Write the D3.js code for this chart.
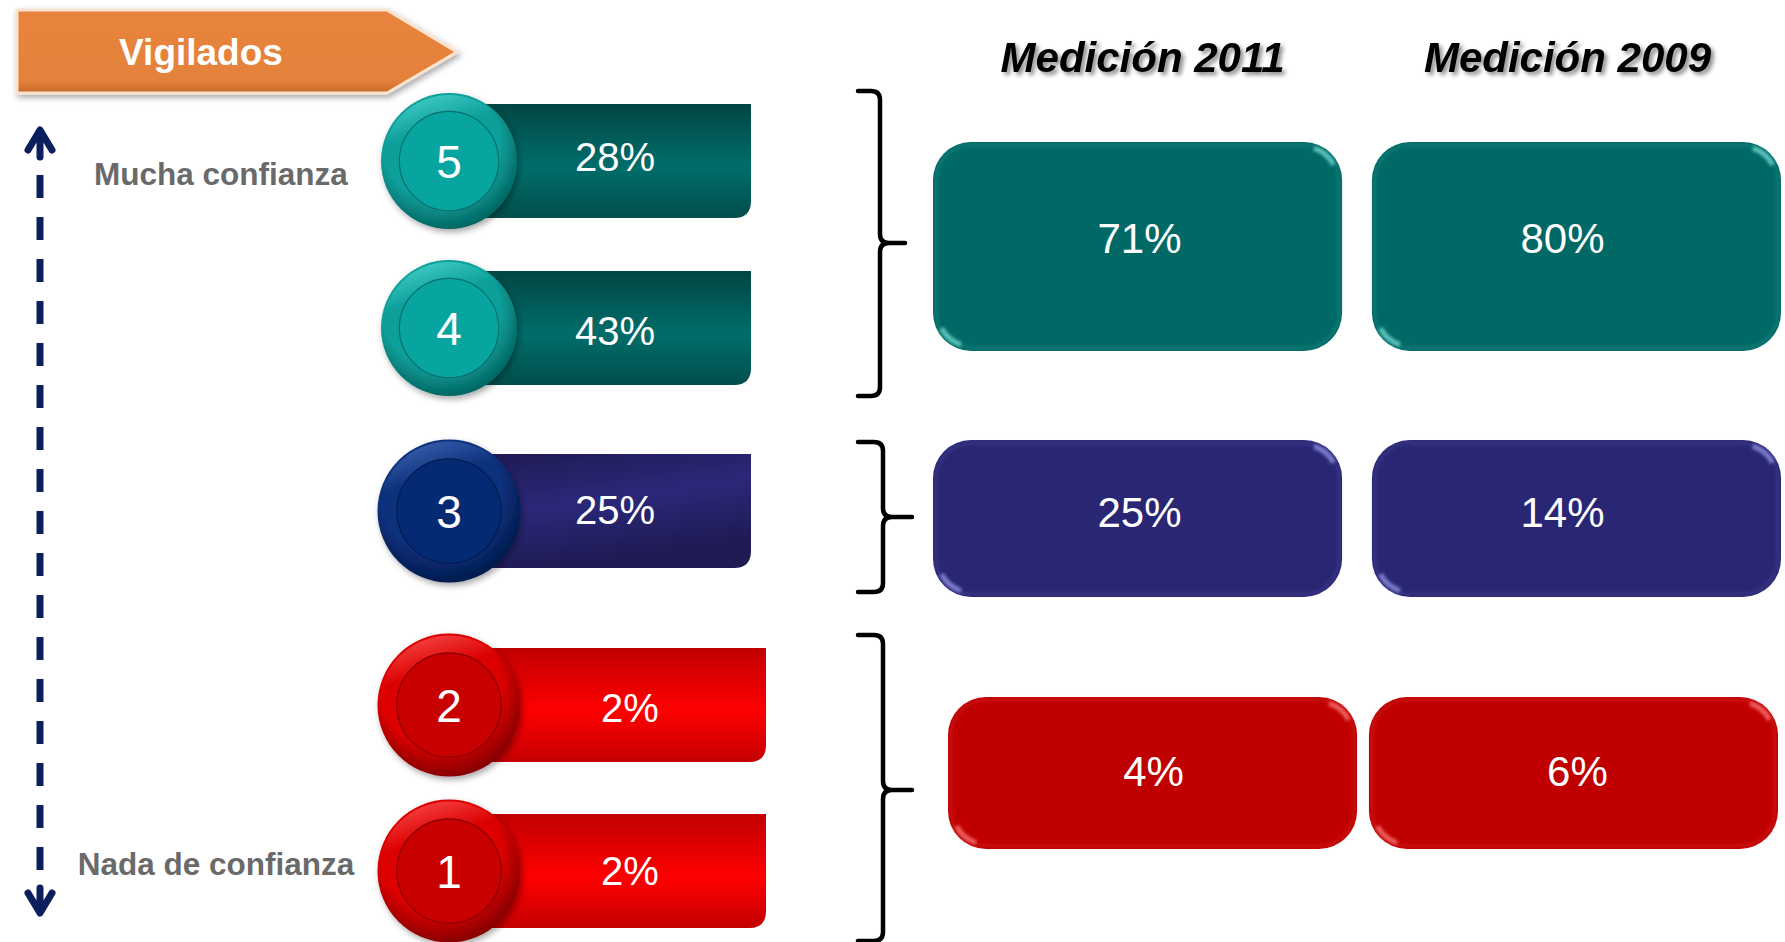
<!DOCTYPE html>
<html>
<head>
<meta charset="utf-8">
<script src="https://cdnjs.cloudflare.com/ajax/libs/d3/7.8.5/d3.min.js"></script>
<style>
  html, body { margin: 0; padding: 0; background: #fff; }
  svg { display: block; font-family: "Liberation Sans", Arial, sans-serif; }
</style>
</head>
<body>
<div id="chart"></div>
<script>
// niveles de confianza (5 = mucha, 1 = nada) y porcentaje de vigilados
const levels = [5, 4, 3, 2, 1];
const vigilados = [28, 43, 25, 2, 2];
const levelGroup = ["alta", "alta", "media", "baja", "baja"];

// agrupaciones y mediciones
const groups = ["alta", "media", "baja"];
const years = ["Medición 2011", "Medición 2009"];
const m2011 = [71, 25, 4];
const m2009 = [80, 14, 6];

const title = "Vigilados";
const endLabels = ["Mucha confianza", "Nada de confianza"];

var
  width = 1785,
  height = 942,

  svg = d3.select("#chart")
    .append("svg")
    .attr("width", width)
    .attr("height", height),

  defs = svg.append("defs");

// layout scales
const rowY = d3.scaleOrdinal(levels, [161, 328, 511, 705, 871]);
const rowTextDy = d3.scaleOrdinal(levels, [10, 17, 13, 17, 14]);
const barRight = d3.scaleOrdinal(groups, [751, 751, 766]);
const circleR = d3.scaleOrdinal(groups, [68, 71.5, 71.5]);
const colX = d3.scaleBand(years, [933, 1781]).paddingInner(0.068);
const boxTop = d3.scaleOrdinal(groups, [142, 440, 697]);
const boxBottom = d3.scaleOrdinal(groups, [351, 597, 849]);
const boxShift = d3.scaleOrdinal(groups, [[0, 0], [0, 0], [15, -3]]);
const boxTextDx = d3.scaleOrdinal(groups, [[2, -14], [2, -14], [1, 4]]);
const boxTextDy = d3.scaleOrdinal(groups, [6, 8, 13]);
const braceY = d3.scaleOrdinal(groups, [[91, 396, 243], [442, 592, 517], [635, 941, 790]]);

const palette = {
  alta:  { bar: ["#024643", "#006d6a", "#014e4b"], ring: ["#55dcd6", "#0aa09b", "#04625f"], disc: "#08a5a0", edge: "#05706c", box: "#006966", gloss: "#7fe2dc" },
  media: { bar: ["#1e1a52", "#2b287a", "#1e1a52"], ring: ["#4a70c0", "#0a307c", "#031a4a"], disc: "#032a72", edge: "#021c50", box: "#292674", gloss: "#9a9df0" },
  baja:  { bar: ["#c00000", "#ff0000", "#c40000"], ring: ["#ff6060", "#dc0000", "#800000"], disc: "#c80000", edge: "#8a0000", box: "#c00000", gloss: "#ff8080" }
};

// gradients
groups.forEach(g => {
  const p = palette[g];
  const lg = defs.append("linearGradient").attr("id", "bar-" + g)
    .attr("x1", 0).attr("y1", 0)
    .attr("x2", g === "media" ? 0.35 : 0).attr("y2", 1);
  lg.append("stop").attr("offset", "0%").attr("stop-color", p.bar[0]);
  lg.append("stop").attr("offset", g === "media" ? "50%" : "55%").attr("stop-color", p.bar[1]);
  lg.append("stop").attr("offset", "100%").attr("stop-color", p.bar[2]);

  const rg = defs.append("radialGradient").attr("id", "ring-" + g)
    .attr("cx", "45%").attr("cy", "40%").attr("r", "62%")
    .attr("fx", "40%").attr("fy", "25%");
  rg.append("stop").attr("offset", "0%").attr("stop-color", p.ring[1]);
  rg.append("stop").attr("offset", "70%").attr("stop-color", p.ring[1]);
  rg.append("stop").attr("offset", "100%").attr("stop-color", p.ring[2]);

  const hl = defs.append("linearGradient").attr("id", "rim-" + g)
    .attr("x1", 0).attr("y1", 0).attr("x2", 0.3).attr("y2", 1);
  hl.append("stop").attr("offset", "0%").attr("stop-color", p.ring[0]).attr("stop-opacity", 0.9);
  hl.append("stop").attr("offset", "35%").attr("stop-color", p.ring[0]).attr("stop-opacity", 0);
  hl.append("stop").attr("offset", "100%").attr("stop-color", p.ring[0]).attr("stop-opacity", 0);
});

const orange = defs.append("linearGradient").attr("id", "orange")
  .attr("x1", 0).attr("y1", 0).attr("x2", 0).attr("y2", 1);
orange.append("stop").attr("offset", "0%").attr("stop-color", "#e8843c");
orange.append("stop").attr("offset", "85%").attr("stop-color", "#e4813a");
orange.append("stop").attr("offset", "100%").attr("stop-color", "#c96a28");

defs.append("filter").attr("id", "shadow").attr("x", "-20%").attr("y", "-20%").attr("width", "140%").attr("height", "150%")
  .append("feDropShadow").attr("dx", 2).attr("dy", 3).attr("stdDeviation", 3)
  .attr("flood-color", "#000").attr("flood-opacity", 0.35);
defs.append("filter").attr("id", "txtshadow").attr("x", "-10%").attr("y", "-30%").attr("width", "120%").attr("height", "160%")
  .append("feDropShadow").attr("dx", 3).attr("dy", 3).attr("stdDeviation", 2)
  .attr("flood-color", "#000").attr("flood-opacity", 0.45);
defs.append("filter").attr("id", "blur")
  .append("feGaussianBlur").attr("stdDeviation", 1.6);

// title arrow
const tg = svg.append("g");
tg.append("path")
  .attr("d", "M17,10 L387,10 L457,52 L387,93 L17,93 Z")
  .attr("fill", "url(#orange)")
  .attr("stroke", "#fbe3d0")
  .attr("stroke-width", 3)
  .attr("filter", "url(#shadow)");
tg.append("text")
  .attr("x", 201).attr("y", 65)
  .attr("text-anchor", "middle")
  .attr("font-size", 37).attr("font-weight", "bold")
  .attr("fill", "#fff")
  .text(title);

// dashed vertical arrow
const ax = svg.append("g")
  .attr("stroke", "#0b1f5c")
  .attr("stroke-width", 7)
  .attr("fill", "none");
ax.append("line").attr("x1", 40).attr("x2", 40).attr("y1", 175).attr("y2", 870)
  .attr("stroke-dasharray", "23 19");
ax.append("path").attr("d", "M28,150 L40,130 L52,150 M40,131 L40,157")
  .attr("stroke-linecap", "round").attr("stroke-linejoin", "round");
ax.append("path").attr("d", "M28,893 L40,913 L52,893 M40,912 L40,888")
  .attr("stroke-linecap", "round").attr("stroke-linejoin", "round");

svg.selectAll(".endlabel")
  .data(endLabels)
  .join("text")
  .attr("class", "endlabel")
  .attr("x", (d, i) => i ? 216 : 221)
  .attr("y", (d, i) => i ? 875 : 185)
  .attr("text-anchor", "middle")
  .attr("font-size", 31.5).attr("font-weight", "bold")
  .attr("fill", "#6a6a6a")
  .text(d => d);

// level rows: bar + disc
const rows = levels.map((lv, i) => ({ level: lv, value: vigilados[i], group: levelGroup[i] }));

function barPath(x0, x1, y0, y1, r) {
  return `M${x0},${y0 + r} Q${x0},${y0} ${x0 + r},${y0} L${x1},${y0} L${x1},${y1 - r} Q${x1},${y1} ${x1 - r},${y1} L${x0},${y1} Z`;
}

const row = svg.selectAll(".row")
  .data(rows)
  .join("g")
  .attr("class", "row");

row.append("path")
  .attr("d", d => barPath(470, barRight(d.group), rowY(d.level) - 57, rowY(d.level) + 57, 17))
  .attr("fill", d => `url(#bar-${d.group})`);

row.append("text")
  .attr("x", d => barRight(d.group) - 136)
  .attr("y", d => rowY(d.level) + rowTextDy(d.level))
  .attr("text-anchor", "middle")
  .attr("font-size", 40)
  .attr("fill", "#fff")
  .text(d => d.value + "%");

row.append("circle")
  .attr("cx", 449).attr("cy", d => rowY(d.level))
  .attr("r", d => circleR(d.group))
  .attr("fill", d => `url(#ring-${d.group})`)
  .attr("filter", "url(#shadow)");
row.append("circle")
  .attr("cx", 449).attr("cy", d => rowY(d.level))
  .attr("r", d => circleR(d.group) - 2)
  .attr("fill", d => `url(#rim-${d.group})`);
row.append("circle")
  .attr("cx", 449).attr("cy", d => rowY(d.level))
  .attr("r", d => circleR(d.group) * 0.73)
  .attr("fill", d => palette[d.group].disc)
  .attr("stroke", d => palette[d.group].edge)
  .attr("stroke-width", 1.2);

row.append("text")
  .attr("x", 449)
  .attr("y", d => rowY(d.level) + 17)
  .attr("text-anchor", "middle")
  .attr("font-size", 46)
  .attr("fill", "#fff")
  .text(d => d.level);

// braces
function bracePath(x0, xv, xt, y0, y1, ym) {
  const r = 9;
  return `M${x0},${y0} L${xv - r},${y0} Q${xv},${y0} ${xv},${y0 + r} L${xv},${ym - r} Q${xv},${ym} ${xv + r},${ym} L${xt},${ym}` +
    ` M${xv + r},${ym} Q${xv},${ym} ${xv},${ym + r} L${xv},${y1 - r} Q${xv},${y1} ${xv - r},${y1} L${x0},${y1}`;
}

svg.selectAll(".brace")
  .data(groups)
  .join("path")
  .attr("class", "brace")
  .attr("d", (g, i) => {
    const [y0, y1, ym] = braceY(g);
    return bracePath(858, i ? 883 : 880, i ? 912 : 905, y0, y1, ym);
  })
  .attr("fill", "none")
  .attr("stroke", "#000")
  .attr("stroke-width", 4.5)
  .attr("stroke-linecap", "round");

// column headers
svg.selectAll(".header")
  .data(years)
  .join("text")
  .attr("class", "header")
  .attr("x", (d, i) => colX(d) + colX.bandwidth() / 2 + (i ? -9 : 5))
  .attr("y", 72)
  .attr("text-anchor", "middle")
  .attr("font-size", 42).attr("font-weight", "bold").attr("font-style", "italic")
  .attr("fill", "#000")
  .attr("filter", "url(#txtshadow)")
  .text(d => d);

// measurement boxes
const boxes = [];
groups.forEach((g, gi) => {
  years.forEach((y, yi) => {
    boxes.push({ group: g, year: y, col: yi, value: (yi ? m2009 : m2011)[gi] });
  });
});

const box = svg.selectAll(".box")
  .data(boxes)
  .join("g")
  .attr("class", "box")
  .attr("transform", d => `translate(${colX(d.year) + boxShift(d.group)[d.col]},${boxTop(d.group)})`);

const bw = colX.bandwidth(), br = 38;

box.append("rect")
  .attr("width", bw)
  .attr("height", d => boxBottom(d.group) - boxTop(d.group))
  .attr("rx", br).attr("ry", br)
  .attr("fill", d => palette[d.group].box);

box.append("rect")
  .attr("x", 3).attr("y", 3)
  .attr("width", bw - 6)
  .attr("height", d => boxBottom(d.group) - boxTop(d.group) - 6)
  .attr("rx", br - 3).attr("ry", br - 3)
  .attr("fill", "none")
  .attr("stroke", d => palette[d.group].gloss)
  .attr("stroke-opacity", 0.12)
  .attr("stroke-width", 3)
  .attr("filter", "url(#blur)");

// corner gloss (top-right and bottom-left)
box.append("path")
  .attr("d", d => {
    const h = boxBottom(d.group) - boxTop(d.group);
    const a = br - 5;
    return `M${bw - br - 2},5 A${a},${a} 0 0 1 ${bw - 5},${br + 2}` +
      ` M${br + 2},${h - 5} A${a},${a} 0 0 1 5,${h - br - 2}`;
  })
  .attr("fill", "none")
  .attr("stroke", d => palette[d.group].gloss)
  .attr("stroke-opacity", 0.7)
  .attr("stroke-width", 5)
  .attr("stroke-dasharray", "0 12 26 200")
  .attr("filter", "url(#blur)");

box.append("text")
  .attr("x", d => bw / 2 + boxTextDx(d.group)[d.col])
  .attr("y", d => (boxBottom(d.group) - boxTop(d.group)) / 2 + boxTextDy(d.group))
  .attr("text-anchor", "middle")
  .attr("font-size", 42)
  .attr("fill", "#fff")
  .text(d => d.value + "%");
</script>
</body>
</html>
